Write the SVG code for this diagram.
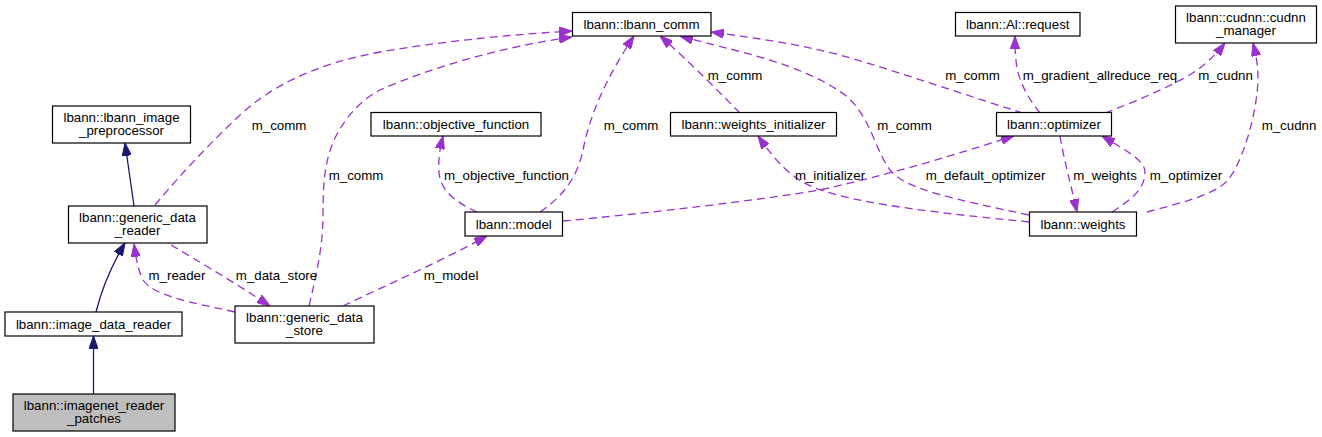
<svg xmlns="http://www.w3.org/2000/svg" width="1322" height="437" viewBox="0 0 1322 437">
<style>
.node rect{fill:#ffffff;stroke:#000000;stroke-width:1.2}
.node.cur rect{fill:#bfbfbf}
text{font-family:"Liberation Sans",Arial,sans-serif;font-size:13.3px;fill:#000000;text-anchor:middle}
.inh{fill:none;stroke:#191970;stroke-width:1.3}
.use{fill:none;stroke:#9a32cd;stroke-width:1.3;stroke-dasharray:8,5}
</style>
<defs>
<marker id="ah-blue" markerUnits="userSpaceOnUse" viewBox="0 0 13 9.4" refX="13" refY="4.7" markerWidth="13" markerHeight="9.4" orient="auto">
<path d="M0,0 L13,4.7 L0,9.4 z" fill="#191970" stroke="#191970"/>
</marker>
<marker id="ah-purple" markerUnits="userSpaceOnUse" viewBox="0 0 13 9.4" refX="13" refY="4.7" markerWidth="13" markerHeight="9.4" orient="auto">
<path d="M0,0 L13,4.7 L0,9.4 z" fill="#9a32cd" stroke="#9a32cd"/>
</marker>
</defs>
<rect x="0" y="0" width="1322" height="437" fill="#ffffff"/>
<g id="connectors">
<path class="inh" marker-end="url(#ah-blue)" d="M134,206 L125,143"/>
<path class="inh" marker-end="url(#ah-blue)" d="M96,312 C101,292 110,268 125,243"/>
<path class="inh" marker-end="url(#ah-blue)" d="M93.5,394 L93.5,336"/>
<path class="use" marker-end="url(#ah-purple)" d="M171,245 C200,262 235,283 270,306"/>
<path class="use" marker-end="url(#ah-purple)" d="M235,312 C195,303 155,297 143,280 C138,270 136,258 134,244"/>
<path class="use" marker-end="url(#ah-purple)" d="M309,306 C317,272 323,245 323,215 C323,180 325,160 335,138 C348,112 365,98 380,90 C430,68 500,47 572,37"/>
<path class="use" marker-end="url(#ah-purple)" d="M155,205 C180,175 210,143 240,115 C270,88 310,65 380,52 C450,40 520,34 572,31"/>
<path class="use" marker-end="url(#ah-purple)" d="M540,212 C565,195 578,175 583,150 C590,115 605,80 634,36"/>
<path class="use" marker-end="url(#ah-purple)" d="M477,212 C455,202 440,190 439,172 C438,160 440,148 443,136"/>
<path class="use" marker-end="url(#ah-purple)" d="M343,306 C380,288 440,262 487,236"/>
<path class="use" marker-end="url(#ah-purple)" d="M563,221 C650,213 760,200 820,190 C900,172 960,153 1014,136"/>
<path class="use" marker-end="url(#ah-purple)" d="M1029,222 C950,214 860,205 815,188 C790,178 775,160 758,136"/>
<path class="use" marker-end="url(#ah-purple)" d="M1029,215 C960,200 905,190 890,170 C875,150 870,115 845,95 C800,62 730,50 680,36"/>
<path class="use" marker-end="url(#ah-purple)" d="M740,113 C715,88 690,62 660,36"/>
<path class="use" marker-end="url(#ah-purple)" d="M1023,113 C980,100 900,72 840,55 C790,42 740,36 711,32"/>
<path class="use" marker-end="url(#ah-purple)" d="M1040,113 C1027,97 1017,78 1016,60 C1015,52 1015,44 1015,36"/>
<path class="use" marker-end="url(#ah-purple)" d="M1105,113 C1140,100 1185,80 1200,68 C1210,60 1218,52 1225,43"/>
<path class="use" marker-end="url(#ah-purple)" d="M1147,212 C1180,203 1215,195 1228,180 C1245,158 1257,110 1258,80 C1258,65 1256,55 1253,43"/>
<path class="use" marker-end="url(#ah-purple)" d="M1060,136 C1064,160 1071,185 1077,212"/>
<path class="use" marker-end="url(#ah-purple)" d="M1112,212 C1130,200 1145,190 1145,172 C1145,160 1125,150 1102,136"/>
</g>
<g id="labels">
<text x="279" y="129.5">m_comm</text>
<text x="356" y="179.5">m_comm</text>
<text x="177" y="279.5">m_reader</text>
<text x="276.5" y="279.5">m_data_store</text>
<text x="451" y="279.5">m_model</text>
<text x="506.5" y="179.5">m_objective_function</text>
<text x="631" y="129.5">m_comm</text>
<text x="735" y="79.5">m_comm</text>
<text x="830" y="179.5">m_initializer</text>
<text x="985.5" y="179.5">m_default_optimizer</text>
<text x="904.5" y="129.5">m_comm</text>
<text x="972.5" y="79.5">m_comm</text>
<text x="1100" y="79.5">m_gradient_allreduce_req</text>
<text x="1225.5" y="79.5">m_cudnn</text>
<text x="1289" y="129.5">m_cudnn</text>
<text x="1105" y="179.5">m_weights</text>
<text x="1186" y="179.5">m_optimizer</text>
</g>
<g id="imagenet_reader_patches" class="node cur"><rect x="13" y="394" width="162" height="37"/><text x="94" y="410">lbann::imagenet_reader</text><text x="94" y="423">_patches</text></g>
<g id="image_data_reader" class="node"><rect x="5" y="312" width="177" height="24"/><text x="93.5" y="328.5">lbann::image_data_reader</text></g>
<g id="generic_data_reader" class="node"><rect x="68.5" y="206" width="138.5" height="37"/><text x="137.5" y="222">lbann::generic_data</text><text x="137.5" y="235">_reader</text></g>
<g id="lbann_image_preprocessor" class="node"><rect x="52.5" y="106" width="138" height="37"/><text x="121.5" y="122">lbann::lbann_image</text><text x="121.5" y="135">_preprocessor</text></g>
<g id="generic_data_store" class="node"><rect x="235" y="306" width="139" height="37"/><text x="304.5" y="322">lbann::generic_data</text><text x="304.5" y="335">_store</text></g>
<g id="lbann_comm" class="node"><rect x="572.5" y="12.5" width="138.5" height="23.5"/><text x="641.5" y="29">lbann::lbann_comm</text></g>
<g id="objective_function" class="node"><rect x="371" y="112.5" width="170" height="23.5"/><text x="456" y="129">lbann::objective_function</text></g>
<g id="model" class="node"><rect x="465" y="212" width="97.5" height="24"/><text x="513.75" y="228.5">lbann::model</text></g>
<g id="weights_initializer" class="node"><rect x="670.5" y="112.5" width="166" height="23.5"/><text x="753.5" y="129">lbann::weights_initializer</text></g>
<g id="optimizer" class="node"><rect x="996.5" y="112.5" width="115" height="23.5"/><text x="1054" y="129">lbann::optimizer</text></g>
<g id="weights" class="node"><rect x="1029.5" y="212" width="107" height="24"/><text x="1083" y="228.5">lbann::weights</text></g>
<g id="al_request" class="node"><rect x="955.5" y="12.5" width="124.5" height="23.5"/><text x="1017.75" y="29">lbann::Al::request</text></g>
<g id="cudnn_manager" class="node"><rect x="1175.5" y="6" width="141" height="37"/><text x="1246" y="22">lbann::cudnn::cudnn</text><text x="1246" y="35">_manager</text></g>
</svg>
